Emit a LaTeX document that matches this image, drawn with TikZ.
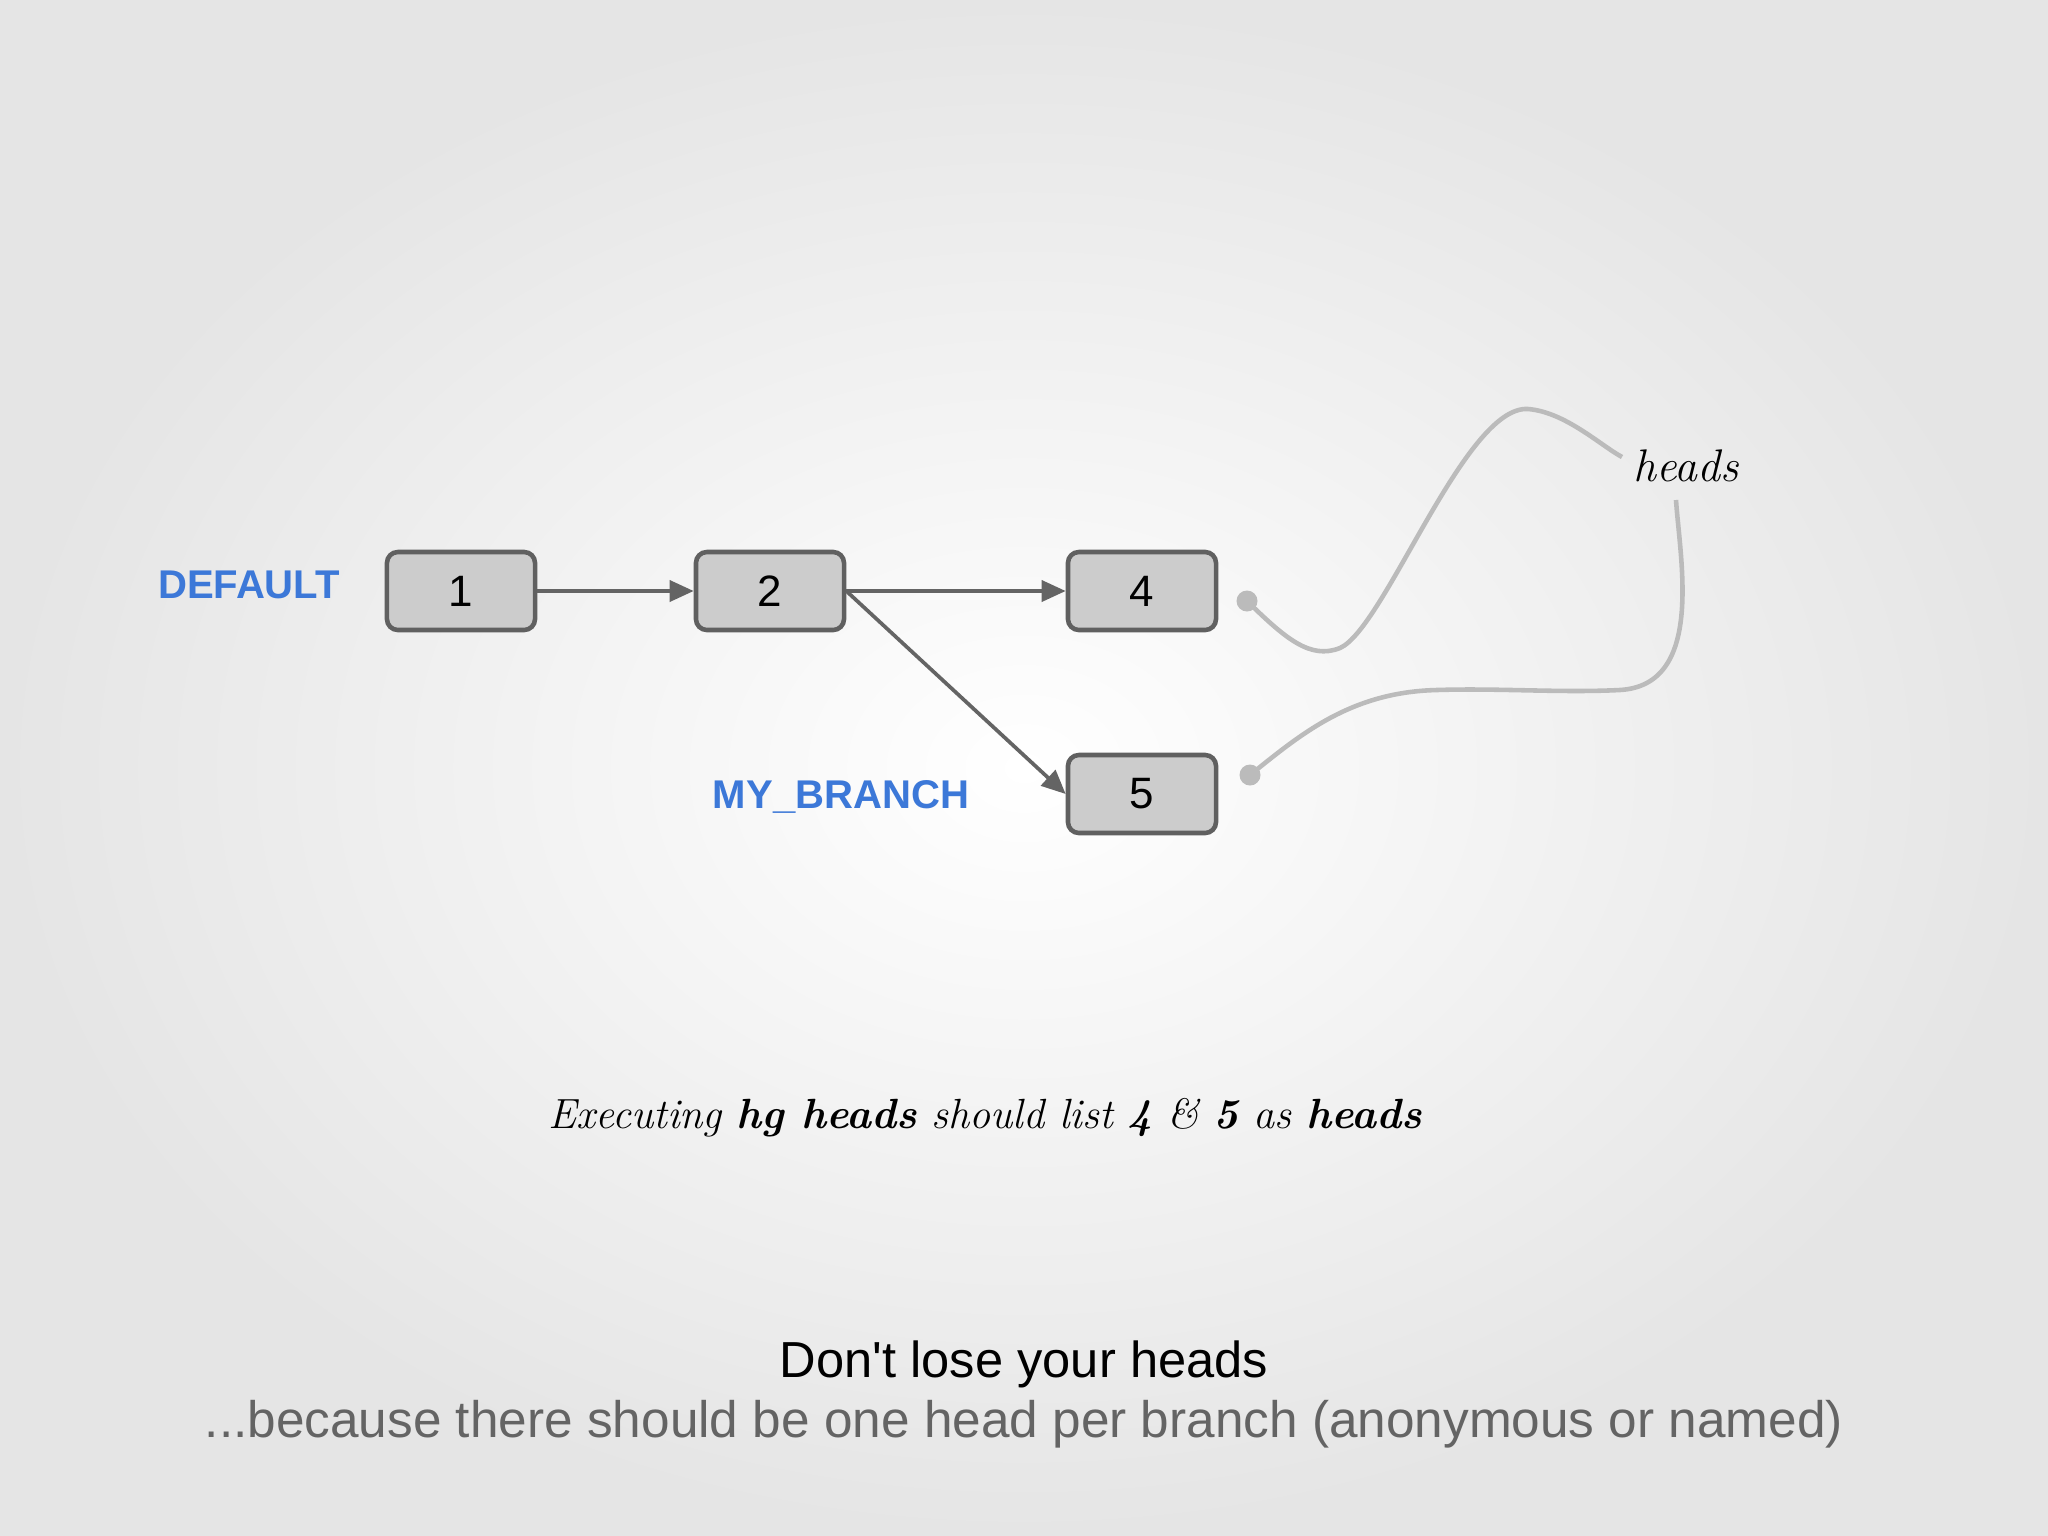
\documentclass[tikz,border=0pt]{standalone}
\usepackage{fontspec}
\setmainfont{Liberation Sans}[Ligatures=TeXOff]
\newfontfamily\handfont{Latin Modern Roman}
\usetikzlibrary{arrows.meta}
\definecolor{bgout}{RGB}{229,229,229}
\definecolor{boxfill}{RGB}{204,204,204}
\definecolor{boxdraw}{RGB}{96,96,96}
\definecolor{arrowc}{RGB}{100,100,100}
\definecolor{labblue}{RGB}{60,120,216}
\definecolor{curvec}{RGB}{187,187,187}
\definecolor{subgray}{RGB}{100,100,100}
\tikzset{
  commit/.style={draw=boxdraw, line width=1.3pt, fill=boxfill, rounded corners=1.1mm,
    minimum width=1.48cm, minimum height=0.78cm, inner sep=0pt,
    font=\fontsize{12.5}{15}\selectfont},
  branchlabel/.style={text=labblue, font=\fontsize{11.4}{14}\selectfont\bfseries, inner sep=0pt},
  link/.style={draw=arrowc, line width=1.05pt, -{Triangle[length=2.4mm,width=2.1mm]}},
  headdot/.style={circle, fill=curvec, minimum size=2.1mm, inner sep=0pt},
  headcurve/.style={draw=curvec, line width=1.3pt},
  hand/.style={font=\handfont\itshape\fontsize{13}{16}\selectfont, inner sep=0pt}
}
\begin{document}
\begin{tikzpicture}[x=0.01cm, y=-0.01cm]
\useasboundingbox (0,0) rectangle (2048,1536);
\shade[inner color=white, outer color=bgout] (0,0) rectangle (2048,1536);

\node[commit] (n1) at (461,591) {1};
\node[commit] (n2) at (770,591) {2};
\node[commit] (n4) at (1142,591) {4};
\node[commit] (n5) at (1142,794) {5};

\node[branchlabel] (ldefault) at (249,585) {DEFAULT};
\node[branchlabel] (lbranch) at (841,797) {MY\_BRANCH};

\draw[link] (n1) -- (n2);
\draw[link] (n2) -- (n4);
\draw[link] (n2.east) -- (n5.west);

\node[headdot] (d4) at (1247,601) {};
\node[headdot] (d5) at (1250,775) {};
\node[hand] (hl) at (1686,466) {heads};
\coordinate (h1) at (1622,457);
\coordinate (h2) at (1676,500);

\draw[headcurve] (d4.center) .. controls (1285,638) and (1310,660) .. (1340,648)
  .. controls (1385,628) and (1465,405) .. (1528,409)
  .. controls (1565,412) and (1600,445) .. (h1);
\draw[headcurve] (h2) .. controls (1680,560) and (1705,685) .. (1620,690)
  .. controls (1560,693) and (1500,688) .. (1437,690)
  .. controls (1350,692) and (1300,735) .. (d5.center);

\node[hand, font=\handfont\itshape\fontsize{12}{15}\selectfont] (t1) at (985,1118)
  {Executing \textbf{hg heads} should list \textbf{4} \& \textbf{5} as \textbf{heads}};

\node[font=\fontsize{14.4}{17}\selectfont, inner sep=0pt] (t2) at (1024,1364) {Don't lose your heads};
\node[font=\fontsize{14.6}{17}\selectfont, text=subgray, inner sep=0pt] (t3) at (1024,1424)
  {...because there should be one head per branch (anonymous or named)};
\end{tikzpicture}
\end{document}
